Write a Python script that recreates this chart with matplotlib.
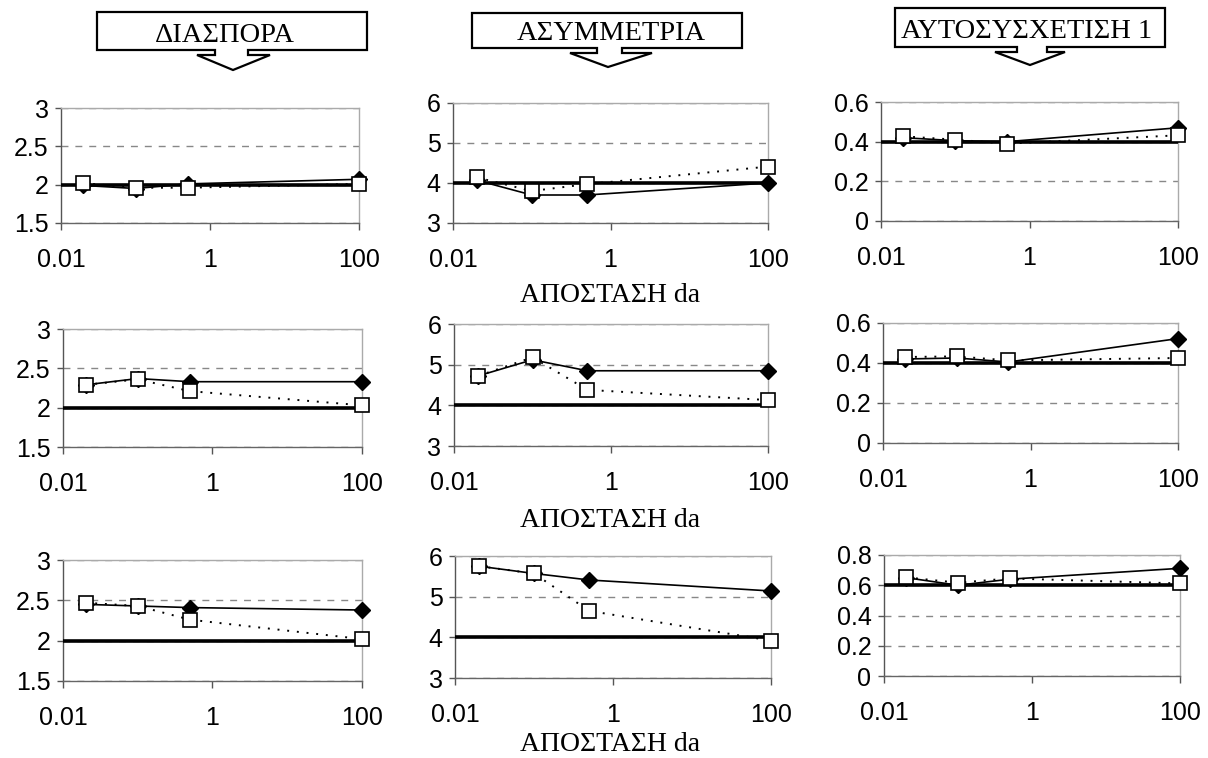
import numpy as np
import matplotlib
matplotlib.use("Agg")
import matplotlib.pyplot as plt
from matplotlib.patches import Polygon
from matplotlib.ticker import FormatStrFormatter, NullLocator

W, H = 1208, 758

# distance values (log axis)
x = [0.02, 0.1, 0.5, 100]

# row 1
diasp1_d = [1.99, 1.95, 2.01, 2.07]
diasp1_s = [2.02, 1.96, 1.96, 2.01]
asym1_d = [4.07, 3.70, 3.70, 4.00]
asym1_s = [4.14, 3.80, 3.97, 4.41]
auto1_d = [0.42, 0.405, 0.40, 0.47]
auto1_s = [0.427, 0.41, 0.39, 0.432]

# row 2
diasp2_d = [2.29, 2.37, 2.33, 2.33]
diasp2_s = [2.29, 2.36, 2.21, 2.03]
asym2_d = [4.72, 5.12, 4.85, 4.85]
asym2_s = [4.72, 5.18, 4.38, 4.13]
auto2_d = [0.42, 0.425, 0.405, 0.522]
auto2_s = [0.43, 0.433, 0.413, 0.425]

# row 3
diasp3_d = [2.45, 2.43, 2.41, 2.38]
diasp3_s = [2.47, 2.43, 2.26, 2.02]
asym3_d = [5.75, 5.57, 5.41, 5.14]
asym3_s = [5.75, 5.57, 4.65, 3.92]
auto3_d = [0.65, 0.60, 0.64, 0.712]
auto3_s = [0.652, 0.617, 0.645, 0.612]

ref_vals = [[2, 4, 0.4], [2, 4, 0.4], [2, 4, 0.6]]
ylims = [[(1.5, 3), (3, 6), (0, 0.6)],
         [(1.5, 3), (3, 6), (0, 0.6)],
         [(1.5, 3), (3, 6), (0, 0.8)]]
ysteps = [0.5, 1, 0.2]

headers = ["ΔΙΑΣΠΟΡΑ", "ΑΣΥΜΜΕΤΡΙΑ", "ΑΥΤΟΣΥΣΧΕΤΙΣΗ 1"]
xlabel = "ΑΠΟΣΤΑΣΗ da"

data = [[(diasp1_d, diasp1_s), (asym1_d, asym1_s), (auto1_d, auto1_s)],
        [(diasp2_d, diasp2_s), (asym2_d, asym2_s), (auto2_d, auto2_s)],
        [(diasp3_d, diasp3_s), (asym3_d, asym3_s), (auto3_d, auto3_s)]]

# axes boxes in pixels: left, right, top, bottom
boxes = [[(61, 359, 108, 223), (453, 768, 103, 223), (881, 1178, 102, 221)],
         [(63, 362, 329, 447), (454, 768, 324, 446), (883, 1178, 323, 443)],
         [(63, 362, 560, 681), (455, 771, 556, 678), (884, 1180, 555, 676)]]

fig = plt.figure(figsize=(W / 100, H / 100), dpi=100)


def fx(px):
    return px / W


def fy(py):
    return 1 - py / H


for r in range(3):
    for c in range(3):
        l, rr, t, b = boxes[r][c]
        ax = fig.add_axes([fx(l), fy(b), fx(rr) - fx(l), (b - t) / H])
        ax.set_xscale("log")
        ax.set_xlim(0.01, 100)
        lo, hi = ylims[r][c]
        ax.set_ylim(lo, hi)
        ax.set_xticks([0.01, 1, 100])
        ax.set_xticklabels(["0.01", "1", "100"])
        ax.xaxis.set_minor_locator(NullLocator())
        ax.set_yticks(np.arange(lo, hi + 1e-9, ysteps[c]))
        ax.yaxis.set_major_formatter(FormatStrFormatter("%g"))
        for lab in ax.get_xticklabels() + ax.get_yticklabels():
            lab.set_fontfamily("Liberation Sans")
            lab.set_fontsize(18)
        ax.tick_params(axis="y", direction="out", length=4, width=1,
                       color="#555555", pad=5)
        ax.tick_params(axis="x", direction="out", length=5, width=1,
                       color="#555555", pad=13)
        ax.grid(axis="y", linestyle=(0, (5, 5)), color="#888888", lw=1)
        ax.grid(axis="x", visible=False)
        ax.spines["left"].set_color("#555555")
        ax.spines["bottom"].set_color("#666666")
        ax.spines["top"].set_color("#aaaaaa")
        ax.spines["right"].set_color("#aaaaaa")
        for s in ax.spines.values():
            s.set_linewidth(1)

        ax.axhline(ref_vals[r][c], color="black", lw=2.6, zorder=3)
        d, sq = data[r][c]
        ax.plot(x, d, color="black", lw=1.2, marker="D", ms=8,
                mfc="black", mec="black", zorder=4, clip_on=False)
        ax.plot(x, sq, color="black", lw=1.4, linestyle=(0, (1, 4)),
                marker="s", ms=9.5, mfc="white", mec="black", mew=1.2,
                zorder=5, clip_on=False)

# header callouts
callouts = [
    dict(L=97, R=367, T=12, B=50, sl=215, sr=248, hl=197, hr=270, hy=55,
         tx=233, ty=70, cx=225, base=42),
    dict(L=472, R=742, T=13, B=48, sl=597, sr=622, hl=570, hr=652, hy=53,
         tx=608, ty=67, cx=611, base=40),
    dict(L=895, R=1165, T=8, B=47, sl=1017, sr=1047, hl=995, hr=1065, hy=52,
         tx=1030, ty=65, cx=1027, base=38),
]
for k, cd in enumerate(callouts):
    pts = [(cd["L"], cd["T"]), (cd["R"], cd["T"]), (cd["R"], cd["B"]),
           (cd["sr"], cd["B"]), (cd["sr"], cd["hy"]), (cd["hr"], cd["hy"]),
           (cd["tx"], cd["ty"]), (cd["hl"], cd["hy"]), (cd["sl"], cd["hy"]),
           (cd["sl"], cd["B"]), (cd["L"], cd["B"])]
    pts = [(fx(px), fy(py)) for px, py in pts]
    fig.patches.append(Polygon(pts, closed=True, transform=fig.transFigure,
                               facecolor="white", edgecolor="black", lw=1.6))
    fig.text(fx(cd["cx"]), fy(cd["base"]), headers[k], ha="center",
             va="baseline", fontfamily="Liberation Serif", fontsize=20.5)

# x axis label under each row
for base in [302, 527, 751]:
    fig.text(fx(610), fy(base), xlabel, ha="center", va="baseline",
             fontfamily="Liberation Serif", fontsize=20)

fig.savefig("out.png", dpi=100)
